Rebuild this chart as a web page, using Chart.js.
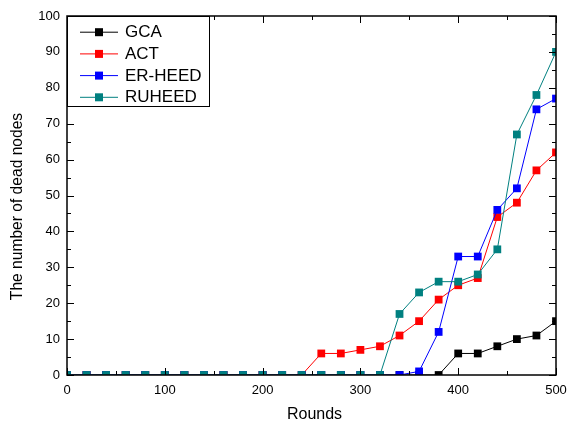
<!DOCTYPE html>
<html>
<head>
<meta charset="utf-8">
<script src="https://cdn.jsdelivr.net/npm/chart.js@4/dist/chart.umd.min.js"></script>
<style>
  html, body { margin: 0; padding: 0; background: #fff; }
  #wrap { width: 569px; height: 427px; }
</style>
</head>
<body>
<div id="wrap"><canvas id="deadNodesChart" width="569" height="427"></canvas></div>
<script>
// Rounds sampled every 20
const rounds = [0, 20, 40, 60, 80, 100, 120, 140, 160, 180, 200, 220, 240, 260, 280, 300, 320, 340, 360, 380, 400, 420, 440, 460, 480, 500];

const gcaDead =    [0, 0, 0, 0, 0, 0, 0, 0, 0, 0, 0, 0, 0, 0, 0, 0, 0, 0, 0, 0, 6, 6, 8, 10, 11, 15];
const actDead =    [0, 0, 0, 0, 0, 0, 0, 0, 0, 0, 0, 0, 0, 6, 6, 7, 8, 11, 15, 21, 25, 27, 44, 48, 57, 62];
const erHeedDead = [0, 0, 0, 0, 0, 0, 0, 0, 0, 0, 0, 0, 0, 0, 0, 0, 0, 0, 1, 12, 33, 33, 46, 52, 74, 77];
const ruHeedDead = [0, 0, 0, 0, 0, 0, 0, 0, 0, 0, 0, 0, 0, 0, 0, 0, 0, 17, 23, 26, 26, 28, 35, 67, 78, 90];

const seriesNames = ['GCA', 'ACT', 'ER-HEED', 'RUHEED'];
const seriesColors = ['#000000', '#ff0000', '#0000ff', '#008080'];
const seriesData = [gcaDead, actDead, erHeedDead, ruHeedDead];

const xTitle = 'Rounds';
const yTitle = 'The number of dead nodes';

const FONT = '"Liberation Sans", Arial, sans-serif';

function toPoints(values) {
    return rounds.map((r, i) => ({ x: r, y: values[i] }));
}

const datasets = seriesNames.map((name, i) => ({
    label: name,
    data: toPoints(seriesData[i]),
    borderColor: seriesColors[i],
    backgroundColor: seriesColors[i],
    pointBackgroundColor: seriesColors[i],
    pointBorderColor: seriesColors[i],
    borderWidth: 1,
    pointStyle: 'rect',
    pointRadius: 5.5,
    pointBorderWidth: 0,
    tension: 0,
    clip: 0,
    // later series sit on top
    order: seriesNames.length - i
}));

// Frame with inward ticks on all four sides
const framePlugin = {
    id: 'frame',
    afterDatasetsDraw(chart) {
        const { ctx, chartArea: a, scales } = chart;
        const x = scales.x, y = scales.y;
        ctx.save();
        ctx.strokeStyle = '#000';
        ctx.lineWidth = 1;
        ctx.beginPath();
        for (let v = 0; v <= 500; v += 50) {
            const px = Math.round(x.getPixelForValue(v)) + 0.5;
            const len = v % 100 === 0 ? 7 : 4;
            ctx.moveTo(px, a.bottom); ctx.lineTo(px, a.bottom - len);
            ctx.moveTo(px, a.top); ctx.lineTo(px, a.top + len);
        }
        for (let v = 0; v <= 100; v += 5) {
            const py = Math.round(y.getPixelForValue(v)) + 0.5;
            const len = v % 10 === 0 ? 7 : 4;
            ctx.moveTo(a.left, py); ctx.lineTo(a.left + len, py);
            ctx.moveTo(a.right, py); ctx.lineTo(a.right - len, py);
        }
        ctx.stroke();
        ctx.lineWidth = 1.5;
        ctx.strokeRect(a.left, a.top, a.right - a.left, a.bottom - a.top);
        ctx.restore();
    }
};

// Axis titles
const axisTitlePlugin = {
    id: 'axisTitles',
    afterDraw(chart) {
        const { ctx, chartArea: a } = chart;
        ctx.save();
        ctx.fillStyle = '#000';
        ctx.textAlign = 'center';
        ctx.textBaseline = 'middle';
        ctx.font = '16px ' + FONT;
        ctx.fillText(xTitle, (a.left + a.right) / 2 + 3, 415);
        ctx.translate(18, (a.top + a.bottom) / 2 + 11);
        ctx.rotate(-Math.PI / 2);
        ctx.font = '15.6px ' + FONT;
        ctx.fillText(yTitle, 0, 0);
        ctx.restore();
    }
};

// Boxed legend in the top-left corner of the plot
const boxLegendPlugin = {
    id: 'boxLegend',
    afterDraw(chart) {
        const { ctx, chartArea: a } = chart;
        const left = a.left, top = a.top;
        const w = 142, h = 90, rowH = 21.7;
        ctx.save();
        ctx.fillStyle = '#fff';
        ctx.fillRect(left, top, w, h);
        ctx.strokeStyle = '#000';
        ctx.lineWidth = 1;
        ctx.strokeRect(left + 0.5, top + 0.5, w, h);
        ctx.font = '17px ' + FONT;
        ctx.textBaseline = 'middle';
        chart.data.datasets.forEach((ds, i) => {
            const cy = top + 15.7 + i * rowH;
            ctx.strokeStyle = ds.borderColor;
            ctx.beginPath();
            ctx.moveTo(left + 13, cy + 0.5);
            ctx.lineTo(left + 51, cy + 0.5);
            ctx.stroke();
            ctx.fillStyle = ds.borderColor;
            ctx.fillRect(left + 28, cy - 3.5, 8, 8);
            ctx.fillStyle = '#000';
            ctx.fillText(ds.label, left + 58, cy + 1);
        });
        ctx.restore();
    }
};

const ctx = document.getElementById('deadNodesChart').getContext('2d');
new Chart(ctx, {
    type: 'line',
    data: { datasets: datasets },
    options: {
        responsive: false,
        animation: false,
        layout: { padding: { left: 0, right: 13, top: 16, bottom: 0 } },
        plugins: {
            legend: { display: false },
            tooltip: { enabled: false }
        },
        scales: {
            x: {
                type: 'linear',
                min: 0,
                max: 500,
                grid: { display: false, drawTicks: false },
                border: { display: false },
                ticks: {
                    stepSize: 100,
                    padding: 8,
                    color: '#000',
                    font: { family: FONT, size: 13 }
                },
                afterFit(scale) {
                    scale.height = 52;
                    scale.paddingLeft = 0;
                    scale.paddingRight = 0;
                }
            },
            y: {
                min: 0,
                max: 100,
                grid: { display: false, drawTicks: false },
                border: { display: false },
                ticks: {
                    stepSize: 10,
                    padding: 7,
                    color: '#000',
                    font: { family: FONT, size: 13 }
                },
                afterFit(scale) {
                    scale.width = 67;
                    scale.paddingTop = 0;
                    scale.paddingBottom = 0;
                }
            }
        }
    },
    plugins: [framePlugin, axisTitlePlugin, boxLegendPlugin]
});
</script>
</body>
</html>
